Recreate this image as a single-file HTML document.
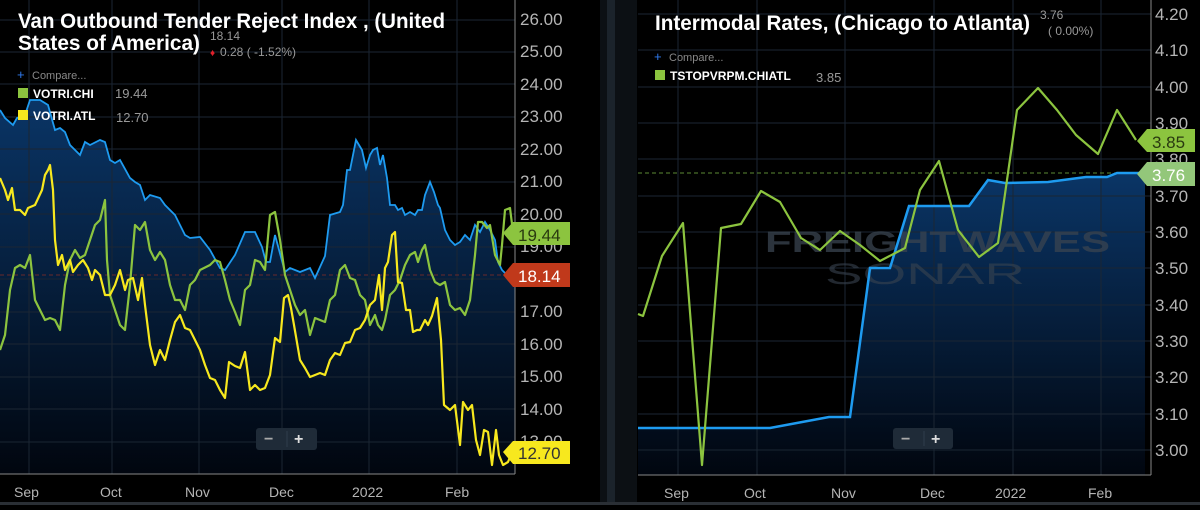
<!DOCTYPE html>
<html><head><meta charset="utf-8"><style>
body{margin:0;background:#000;width:1200px;height:505px;overflow:hidden;font-family:"Liberation Sans",sans-serif}
</style></head><body>
<svg width="1200" height="505" viewBox="0 0 1200 505" xmlns="http://www.w3.org/2000/svg" font-family="Liberation Sans, sans-serif">
<defs>
<linearGradient id="g1" x1="0" y1="0" x2="0" y2="1"><stop offset="0" stop-color="#0a3566"/><stop offset="1" stop-color="#01060f"/></linearGradient>
<linearGradient id="g2" x1="0" y1="0" x2="0" y2="1"><stop offset="0" stop-color="#0a3566"/><stop offset="1" stop-color="#01060f"/></linearGradient>
</defs>
<rect width="1200" height="505" fill="#000"/>
<!-- LEFT PANEL -->
<polygon fill="url(#g1)" points="0,474 0,110 5,118 13,125 17,118 25,115 30,100 40,100 48,105 55,130 60,128 65,132 70,145 75,150 80,155 85,142 90,145 100,140 105,142 110,160 115,163 120,160 130,178 135,182 140,185 145,200 150,195 160,198 165,205 175,215 180,225 185,235 190,238 200,237 210,250 220,268 225,270 235,255 245,232 255,232 262,247 266,262 270,262 275,235 285,272 290,268 300,272 310,268 315,278 325,256 330,215 340,212 343,205 347,170 350,170 356,140 362,150 366,168 370,155 373,150 377,148 380,165 383,155 387,178 390,205 395,205 398,210 402,208 405,215 410,212 415,215 418,210 422,210 425,195 430,182 434,192 438,205 440,208 445,230 450,240 455,245 460,242 465,235 470,240 475,225 480,232 485,222 490,230 495,240 498,262 502,270 507,275 512,270 515,270 515,474"/>
<g stroke="#1b2633" stroke-width="1">
<line x1="29" y1="0" x2="29" y2="474"/><line x1="112" y1="0" x2="112" y2="474"/><line x1="199" y1="0" x2="199" y2="474"/><line x1="282" y1="0" x2="282" y2="474"/><line x1="369" y1="0" x2="369" y2="474"/><line x1="457" y1="0" x2="457" y2="474"/>
<line x1="0" y1="20" x2="515" y2="20"/><line x1="0" y1="52" x2="515" y2="52"/><line x1="0" y1="84" x2="515" y2="84"/><line x1="0" y1="117" x2="515" y2="117"/><line x1="0" y1="149" x2="515" y2="149"/><line x1="0" y1="182" x2="515" y2="182"/><line x1="0" y1="214" x2="515" y2="214"/><line x1="0" y1="247" x2="515" y2="247"/><line x1="0" y1="279" x2="515" y2="279"/><line x1="0" y1="312" x2="515" y2="312"/><line x1="0" y1="344" x2="515" y2="344"/><line x1="0" y1="377" x2="515" y2="377"/><line x1="0" y1="409" x2="515" y2="409"/><line x1="0" y1="442" x2="515" y2="442"/>
</g>
<line x1="0" y1="275" x2="515" y2="275" stroke="#6b2a2a" stroke-dasharray="4,3"/>
<line x1="515" y1="0" x2="515" y2="474" stroke="#888"/>
<line x1="0" y1="474" x2="515" y2="474" stroke="#888"/>
<polyline fill="none" stroke="#1e9bf0" stroke-width="1.8" points="0,110 5,118 13,125 17,118 25,115 30,100 40,100 48,105 55,130 60,128 65,132 70,145 75,150 80,155 85,142 90,145 100,140 105,142 110,160 115,163 120,160 130,178 135,182 140,185 145,200 150,195 160,198 165,205 175,215 180,225 185,235 190,238 200,237 210,250 220,268 225,270 235,255 245,232 255,232 262,247 266,262 270,262 275,235 285,272 290,268 300,272 310,268 315,278 325,256 330,215 340,212 343,205 347,170 350,170 356,140 362,150 366,168 370,155 373,150 377,148 380,165 383,155 387,178 390,205 395,205 398,210 402,208 405,215 410,212 415,215 418,210 422,210 425,195 430,182 434,192 438,205 440,208 445,230 450,240 455,245 460,242 465,235 470,240 475,225 480,232 485,222 490,230 495,240 498,262 502,270 507,275 512,270 515,270"/>
<polyline fill="none" stroke="#8cc43f" stroke-width="2.2" stroke-linejoin="round" points="0,350 5,335 10,290 15,268 20,265 25,268 30,255 35,300 40,310 45,320 50,318 55,320 60,330 65,285 70,260 75,250 80,258 85,255 90,240 95,225 100,220 105,200 107,260 110,295 115,310 120,325 125,330 130,285 135,225 140,230 145,222 150,250 155,260 160,252 165,260 170,285 175,300 180,300 185,310 190,285 195,280 200,270 210,265 215,260 220,262 225,280 230,300 235,312 240,325 245,290 250,285 255,260 260,262 265,270 270,215 275,212 280,240 285,275 290,290 295,305 300,315 305,310 310,335 315,318 320,320 325,322 330,300 335,295 340,270 345,265 350,278 355,280 360,295 365,300 370,325 375,315 378,325 382,330 385,320 390,295 395,290 400,280 405,265 410,255 415,252 418,262 422,250 425,245 430,270 435,282 440,285 445,282 450,305 455,310 460,308 465,315 470,300 475,255 478,222 482,222 487,228 490,225 495,255 500,265 502,245 505,210 510,208 513,232"/>
<polyline fill="none" stroke="#f7e81e" stroke-width="2.2" stroke-linejoin="round" points="0,178 5,190 8,200 12,188 15,210 20,210 25,215 28,208 35,205 42,190 45,175 48,170 50,165 53,190 55,240 58,265 62,255 65,270 70,260 73,272 78,265 83,260 88,268 92,280 95,270 100,275 105,295 110,295 115,285 120,270 125,290 128,280 133,278 138,300 142,278 145,305 150,345 155,365 160,350 165,360 170,340 175,322 180,315 185,328 190,330 195,340 200,350 205,365 210,378 215,380 220,390 225,398 229,362 235,366 240,368 245,352 250,390 255,385 260,390 265,388 270,375 275,338 280,342 284,298 288,295 291,308 294,325 300,360 305,368 310,377 315,375 320,373 325,375 330,360 335,353 340,355 345,343 350,342 355,330 360,328 365,320 370,305 375,300 379,275 382,310 385,268 388,262 392,235 395,232 398,282 402,283 406,310 410,310 413,332 417,330 420,330 425,320 428,325 432,316 437,298 441,340 444,405 450,410 455,405 460,445 463,402 468,410 472,405 476,440 480,455 484,430 488,432 492,465 496,430 499,455 503,465 508,462 512,452"/>
<g fill="#b5b5b5" font-size="17">
<text x="520" y="25">26.00</text><text x="520" y="57">25.00</text><text x="520" y="90">24.00</text><text x="520" y="122">23.00</text><text x="520" y="155">22.00</text><text x="520" y="187">21.00</text><text x="520" y="220">20.00</text><text x="520" y="252">19.00</text><text x="520" y="285">18.00</text><text x="520" y="317">17.00</text><text x="520" y="350">16.00</text><text x="520" y="382">15.00</text><text x="520" y="415">14.00</text><text x="520" y="447">13.00</text>
</g>
<path d="M503,233 L513,222 L570,222 L570,245 L513,245 Z" fill="#8cc43f"/><text x="518" y="241" fill="#2a3a10" font-size="17">19.44</text>
<path d="M503,275 L513,263 L570,263 L570,287 L513,287 Z" fill="#c0391b"/><text x="518" y="282" fill="#fff" font-size="17">18.14</text>
<path d="M503,452 L513,441 L570,441 L570,464 L513,464 Z" fill="#f7e81e"/><text x="518" y="459" fill="#333" font-size="17">12.70</text>
<g fill="#b5b5b5" font-size="14"><text x="14" y="497">Sep</text><text x="100" y="497">Oct</text><text x="185" y="497">Nov</text><text x="269" y="497">Dec</text><text x="352" y="497">2022</text><text x="445" y="497">Feb</text></g>
<text x="18" y="28" fill="#fff" font-size="21" font-weight="bold" font-family="Liberation Sans Narrow, Liberation Sans, sans-serif" textLength="427" lengthAdjust="spacingAndGlyphs">Van Outbound Tender Reject Index , (United</text>
<text x="18" y="50" fill="#fff" font-size="21" font-weight="bold" font-family="Liberation Sans Narrow, Liberation Sans, sans-serif" textLength="182" lengthAdjust="spacingAndGlyphs">States of America)</text>
<text x="210" y="40" fill="#999" font-size="12">18.14</text>
<text x="210" y="56" fill="#e0202a" font-size="10">♦</text><text x="220" y="56" fill="#999" font-size="12">0.28 ( -1.52%)</text>
<text x="17" y="79" fill="#2f7bf0" font-size="13">+</text><text x="32" y="79" fill="#888" font-size="11">Compare...</text>
<rect x="18" y="88" width="10" height="10" fill="#8cc43f"/><text x="33" y="98" fill="#fff" font-size="12" font-weight="bold">VOTRI.CHI</text><text x="115" y="98" fill="#999" font-size="13">19.44</text>
<rect x="18" y="110" width="10" height="10" fill="#f7e81e"/><text x="33" y="120" fill="#fff" font-size="12" font-weight="bold">VOTRI.ATL</text><text x="116" y="122" fill="#999" font-size="13">12.70</text>
<rect x="256" y="428" width="61" height="22" rx="3" fill="#1f2b38"/><text x="264" y="444" fill="#aaa" font-size="16" font-weight="bold">−</text><line x1="287" y1="431" x2="287" y2="447" stroke="#2f3d4c"/><text x="294" y="444" fill="#ddd" font-size="16" font-weight="bold">+</text>
<!-- divider -->
<rect x="600" y="0" width="37" height="505" fill="#0c1014"/>
<rect x="607" y="0" width="8" height="505" fill="#1b232b"/>
<!-- RIGHT PANEL -->
<polygon fill="url(#g2)" points="638,475 638,428 770,428 829,417 850,417 870,268 890,268 909,206 969,206 988,180 1005,183 1048,182 1086,177 1107,177 1117,173 1145,173 1145,475"/>
<g stroke="#1b2633" stroke-width="1">
<line x1="678" y1="0" x2="678" y2="475"/><line x1="757" y1="0" x2="757" y2="475"/><line x1="845" y1="0" x2="845" y2="475"/><line x1="934" y1="0" x2="934" y2="475"/><line x1="1013" y1="0" x2="1013" y2="475"/><line x1="1101" y1="0" x2="1101" y2="475"/>
<line x1="638" y1="14" x2="1151" y2="14"/><line x1="638" y1="50" x2="1151" y2="50"/><line x1="638" y1="87" x2="1151" y2="87"/><line x1="638" y1="123" x2="1151" y2="123"/><line x1="638" y1="159" x2="1151" y2="159"/><line x1="638" y1="196" x2="1151" y2="196"/><line x1="638" y1="232" x2="1151" y2="232"/><line x1="638" y1="268" x2="1151" y2="268"/><line x1="638" y1="305" x2="1151" y2="305"/><line x1="638" y1="341" x2="1151" y2="341"/><line x1="638" y1="377" x2="1151" y2="377"/><line x1="638" y1="414" x2="1151" y2="414"/><line x1="638" y1="450" x2="1151" y2="450"/>
</g>
<text x="765" y="252" fill="#3a4450" font-size="30" font-weight="bold" opacity="0.75" textLength="345" lengthAdjust="spacingAndGlyphs">FREIGHTWAVES</text>
<text x="825" y="284" fill="#3a4450" font-size="30" opacity="0.6" textLength="200" lengthAdjust="spacingAndGlyphs">SONAR</text>
<line x1="638" y1="173" x2="1151" y2="173" stroke="#5d8a35" stroke-dasharray="4,3"/>
<line x1="1151" y1="0" x2="1151" y2="475" stroke="#888"/>
<line x1="638" y1="475" x2="1151" y2="475" stroke="#888"/>
<polyline fill="none" stroke="#1e9bf0" stroke-width="2.5" points="638,428 770,428 829,417 850,417 870,268 890,268 909,206 969,206 988,180 1005,183 1048,182 1086,177 1107,177 1117,173 1145,173"/>
<polyline fill="none" stroke="#8cc43f" stroke-width="2.2" stroke-linejoin="round" points="638,314 643,316 662,256 683,223 702,465 721,228 741,224 761,191 780,202 801,238 820,250 840,231 860,245 880,261 905,248 920,190 939,161 958,230 979,257 998,243 1017,110 1038,88 1057,110 1076,135 1098,154 1117,110 1136,140"/>
<g fill="#b5b5b5" font-size="17">
<text x="1155" y="20">4.20</text><text x="1155" y="56">4.10</text><text x="1155" y="93">4.00</text><text x="1155" y="129">3.90</text><text x="1155" y="165">3.80</text><text x="1155" y="202">3.70</text><text x="1155" y="238">3.60</text><text x="1155" y="274">3.50</text><text x="1155" y="311">3.40</text><text x="1155" y="347">3.30</text><text x="1155" y="383">3.20</text><text x="1155" y="420">3.10</text><text x="1155" y="456">3.00</text>
</g>
<path d="M1137,141 L1147,129 L1195,129 L1195,152 L1147,152 Z" fill="#8cc43f"/><text x="1152" y="148" fill="#2a3a10" font-size="17">3.85</text>
<path d="M1137,174 L1147,162 L1195,162 L1195,186 L1147,186 Z" fill="#93c77a"/><text x="1152" y="181" fill="#fff" font-size="17">3.76</text>
<g fill="#b5b5b5" font-size="14"><text x="664" y="498">Sep</text><text x="744" y="498">Oct</text><text x="831" y="498">Nov</text><text x="920" y="498">Dec</text><text x="995" y="498">2022</text><text x="1088" y="498">Feb</text></g>
<text x="655" y="30" fill="#fff" font-size="21" font-weight="bold" font-family="Liberation Sans Narrow, Liberation Sans, sans-serif" textLength="375" lengthAdjust="spacingAndGlyphs">Intermodal Rates, (Chicago to Atlanta)</text>
<text x="1040" y="19" fill="#999" font-size="12">3.76</text>
<text x="1048" y="35" fill="#999" font-size="12">( 0.00%)</text>
<text x="654" y="61" fill="#2f7bf0" font-size="13">+</text><text x="669" y="61" fill="#888" font-size="11">Compare...</text>
<rect x="655" y="70" width="10" height="10" fill="#8cc43f"/><text x="670" y="80" fill="#fff" font-size="12" font-weight="bold">TSTOPVRPM.CHIATL</text><text x="816" y="82" fill="#999" font-size="13">3.85</text>
<rect x="893" y="428" width="60" height="21" rx="3" fill="#1f2b38"/><text x="901" y="444" fill="#aaa" font-size="16" font-weight="bold">−</text><line x1="924" y1="431" x2="924" y2="446" stroke="#2f3d4c"/><text x="931" y="444" fill="#ddd" font-size="16" font-weight="bold">+</text>
<rect x="0" y="502" width="1200" height="3" fill="#2a2f35"/>
</svg>
</body></html>
